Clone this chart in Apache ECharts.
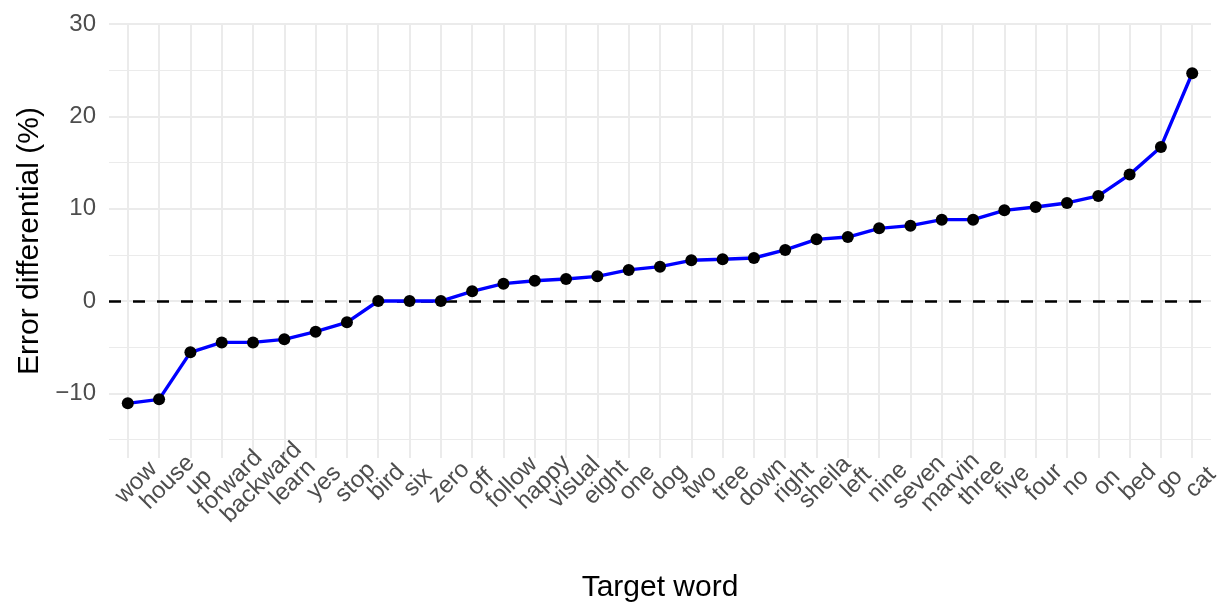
<!DOCTYPE html>
<html>
<head>
<meta charset="utf-8">
<script src="https://cdn.jsdelivr.net/npm/echarts@6/dist/echarts.min.js"></script>
<style>
    html, body { margin: 0; padding: 0; background: #fff; }
    #chart { width: 1219px; height: 602px; }
</style>
</head>
<body>
<div id="chart"></div>
<script>
    // target words, sorted by error differential
    const words = ['wow', 'house', 'up', 'forward', 'backward', 'learn', 'yes', 'stop', 'bird', 'six',
        'zero', 'off', 'follow', 'happy', 'visual', 'eight', 'one', 'dog', 'two', 'tree',
        'down', 'right', 'sheila', 'left', 'nine', 'seven', 'marvin', 'three', 'five', 'four',
        'no', 'on', 'bed', 'go', 'cat']
    const errorDiff = [-11.08, -10.65, -5.56, -4.48, -4.48, -4.15, -3.32, -2.31, 0, 0,
        0, 1.05, 1.88, 2.2, 2.38, 2.67, 3.37, 3.72, 4.41, 4.52,
        4.66, 5.53, 6.68, 6.93, 7.87, 8.16, 8.81, 8.81, 9.82, 10.18,
        10.62, 11.38, 13.69, 16.69, 24.67]
    const yMajor = [-10, 0, 10, 20, 30]
    const yMinor = [-15, -5, 5, 15, 25]
    const xTicks = words.map((w, i) => i)

    const gridColor = '#EBEBEB'
    const textColor = '#4D4D4D'
    const font = 'Liberation Sans, Arial, Helvetica, sans-serif'

    // panel: x from -0.6 to 34.6 (ggplot discrete expansion)
    const panelLeft = 109, panelRight = 8
    const unit = (1219 - panelLeft - panelRight) / 35.2
    const firstX = panelLeft + 0.6 * unit

    let myChart = echarts.init(document.getElementById('chart'), null, { renderer: 'canvas' })
    let option = {
        animation: false,
        backgroundColor: '#fff',
        grid: [
            { left: panelLeft, right: panelRight, top: 24, bottom: 144, outerBoundsMode: 'none' },
            // label-only grid whose edges sit on the first and last word
            { left: firstX, right: 1219 - firstX - 34 * unit, top: 24, bottom: 144, outerBoundsMode: 'none' }
        ],
        xAxis: [
            {
                type: 'value',
                gridIndex: 0,
                min: -0.6,
                max: 34.6,
                name: 'Target word',
                nameLocation: 'middle',
                nameGap: 115,
                nameTextStyle: { color: '#000', fontSize: 30, fontFamily: font },
                axisLine: { show: false },
                axisTick: { show: false, customValues: xTicks },
                axisLabel: { show: false },
                splitLine: { show: true, lineStyle: { color: gridColor, width: 2 } }
            },
            {
                type: 'category',
                gridIndex: 1,
                data: words,
                boundaryGap: false,
                axisLine: { show: false },
                axisTick: { show: false },
                splitLine: { show: false },
                axisLabel: {
                    interval: 0,
                    rotate: 45,
                    // centred along the text, top edge at the anchor (ggplot angle = 45)
                    align: 'center',
                    verticalAlign: 'top',
                    margin: 16,
                    hideOverlap: false,
                    color: textColor,
                    fontSize: 24,
                    fontFamily: font
                }
            }
        ],
        yAxis: [
            {
                type: 'value',
                gridIndex: 0,
                min: -17,
                max: 30,
                name: 'Error differential (%)',
                nameLocation: 'middle',
                nameGap: 62,
                nameTextStyle: { color: '#000', fontSize: 30, fontFamily: font },
                axisLine: { show: false },
                axisTick: { show: false, customValues: yMajor },
                axisLabel: {
                    customValues: yMajor,
                    margin: 13,
                    color: textColor,
                    fontSize: 24,
                    fontFamily: font,
                    formatter: v => v < 0 ? '\u2212' + Math.abs(v) : String(v)
                },
                splitLine: { show: true, lineStyle: { color: gridColor, width: 2 } }
            },
            {
                // minor grid lines
                type: 'value',
                gridIndex: 0,
                min: -17,
                max: 30,
                position: 'left',
                axisLine: { show: false },
                axisTick: { show: false, customValues: yMinor },
                axisLabel: { show: false },
                splitLine: { show: true, lineStyle: { color: gridColor, width: 1.2 } }
            },
            {
                type: 'value',
                gridIndex: 1,
                show: false
            }
        ],
        series: [
            {
                // dashed reference line at zero
                type: 'line',
                xAxisIndex: 0,
                yAxisIndex: 0,
                data: [],
                markLine: {
                    silent: true,
                    symbol: 'none',
                    z: 1,
                    label: { show: false },
                    lineStyle: { color: '#000', width: 2.5, type: [12, 12] },
                    data: [{ yAxis: 0 }]
                }
            },
            {
                name: 'Error differential',
                type: 'line',
                xAxisIndex: 0,
                yAxisIndex: 0,
                z: 3,
                data: errorDiff.map((v, i) => [i, v]),
                symbol: 'circle',
                symbolSize: 12,
                itemStyle: { color: '#000' },
                lineStyle: { color: '#0000FF', width: 3.4 }
            }
        ]
    }
    myChart.setOption(option)
</script>
</body>
</html>
